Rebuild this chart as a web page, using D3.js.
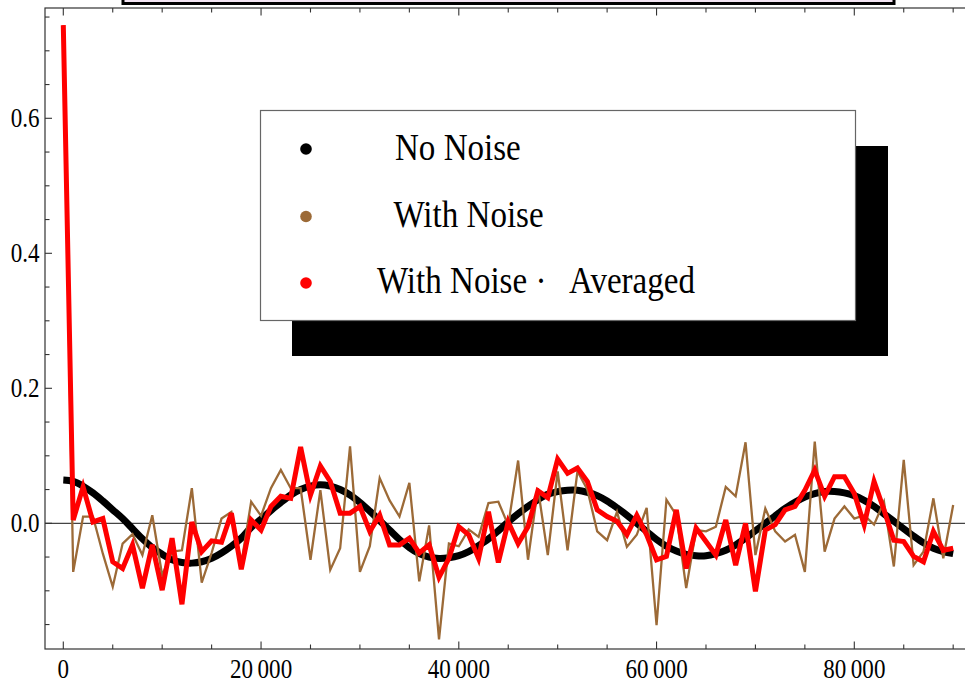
<!DOCTYPE html>
<html><head><meta charset="utf-8">
<script src="https://cdn.jsdelivr.net/npm/d3@7"></script>
<style>html,body{margin:0;padding:0;background:#fff;overflow:hidden}</style>
</head><body>
<svg id="chart" width="965" height="686"></svg>
<script>
// ---- data (x sampled every 1000 from 0 to 90000) ----
const xStep = 1000;
const noNoise = [0.064,0.062,0.055,0.045,0.033,0.020,0.007,-0.008,-0.023,-0.036,-0.046,-0.054,-0.058,-0.059,-0.057,-0.052,-0.044,-0.034,-0.022,-0.006,0.006,0.019,0.031,0.042,0.050,0.055,0.057,0.055,0.050,0.042,0.031,0.018,0.004,-0.010,-0.024,-0.036,-0.045,-0.050,-0.052,-0.051,-0.048,-0.042,-0.033,-0.023,-0.011,0.002,0.014,0.025,0.035,0.043,0.047,0.049,0.049,0.046,0.041,0.033,0.023,0.012,0.000,-0.012,-0.024,-0.034,-0.041,-0.046,-0.048,-0.048,-0.045,-0.040,-0.032,-0.022,-0.011,0.000,0.011,0.022,0.031,0.039,0.044,0.047,0.047,0.045,0.041,0.034,0.025,0.014,0.003,-0.008,-0.019,-0.029,-0.037,-0.042,-0.045];
const withNoise = [0.738,-0.072,0.010,0.010,-0.045,-0.094,-0.030,-0.016,-0.047,0.012,-0.077,-0.042,-0.040,0.052,-0.088,-0.044,0.007,0.017,-0.060,0.032,0.011,0.052,0.079,0.052,0.052,-0.054,0.049,-0.069,-0.037,0.114,-0.072,-0.034,0.067,0.034,0.010,0.060,-0.086,-0.003,-0.172,-0.030,-0.034,-0.009,-0.020,0.030,0.032,-0.003,0.093,-0.054,0.052,-0.047,0.077,-0.040,0.077,0.050,-0.012,-0.025,0.017,-0.035,-0.017,0.023,-0.151,0.035,0.012,-0.096,-0.010,-0.012,-0.005,0.054,0.040,0.120,-0.047,0.022,-0.012,-0.027,-0.017,-0.072,0.121,-0.042,0.007,0.025,0.007,0.012,-0.002,0.032,-0.064,0.094,-0.062,-0.042,0.037,-0.052,0.027];
const averaged = [0.738,0.005,0.054,0.002,0.007,-0.057,-0.067,-0.032,-0.096,-0.032,-0.099,-0.022,-0.120,0.002,-0.042,-0.026,-0.028,0.015,-0.068,0.005,-0.010,0.025,0.040,0.037,0.113,0.042,0.085,0.062,0.015,0.015,0.025,-0.012,0.012,-0.032,-0.032,-0.022,-0.044,-0.032,-0.080,-0.052,-0.005,-0.017,-0.052,0.017,-0.058,0.002,-0.030,-0.005,0.048,0.038,0.095,0.074,0.082,0.062,0.020,0.010,0.003,-0.017,0.012,-0.017,-0.054,-0.049,0.020,-0.067,-0.007,-0.027,-0.047,0.005,-0.062,0.000,-0.101,-0.010,-0.002,0.020,0.025,0.049,0.079,0.040,0.069,0.069,0.044,-0.002,0.062,0.020,-0.025,-0.027,-0.049,-0.057,-0.012,-0.040,-0.037];
const xTickValues = [0, 20000, 40000, 60000, 80000];
const xTickLabels = ["0", "20\u2009000", "40\u2009000", "60\u2009000", "80\u2009000"];
const yTickValues = [0.0, 0.2, 0.4, 0.6];
const yTickLabels = ["0.0", "0.2", "0.4", "0.6"];
const legendLabels = ["No Noise", "With Noise", "With Noise \u00B7"];
const legendExtra = "Averaged";
const seriesColors = ["#000000", "#9c6a37", "#ff0000"];

// ---- layout ----
const svg = d3.select("#chart");
const frame = {left: 45, top: 8, bottom: 649, right: 968};
const x = d3.scaleLinear().domain([0, 80000]).range([63.3, 854.3]);
const y = d3.scaleLinear().domain([0, 0.6]).range([523.3, 118.3]);
const serif = "'Liberation Serif','Times New Roman',serif";
const SX = 0.87;

// clip
svg.append("clipPath").attr("id","clip").append("rect")
  .attr("x", frame.left).attr("y", frame.top)
  .attr("width", frame.right-frame.left).attr("height", frame.bottom-frame.top);

// title box (cut off at top)
svg.append("rect").attr("x",123).attr("y",-20).attr("width",771).attr("height",23.5)
  .attr("fill","#f3e4f3").attr("stroke","#000").attr("stroke-width",3);

// zero line
svg.append("line").attr("x1",frame.left).attr("x2",frame.right)
  .attr("y1",y(0)).attr("y2",y(0)).attr("stroke","#444").attr("stroke-width",1.3);

// series
const g = svg.append("g").attr("clip-path","url(#clip)");
const smooth = d3.line().x((d,i)=>x(i*xStep)).y(d=>y(d)).curve(d3.curveCatmullRom);
g.append("path").attr("d", smooth(noNoise))
  .attr("fill","none").attr("stroke",seriesColors[0]).attr("stroke-width",7).attr("stroke-linejoin","round");
const lin = d3.line().x((d,i)=>x(i*xStep)).y(d=>y(d));
g.append("path").attr("d", lin(withNoise))
  .attr("fill","none").attr("stroke",seriesColors[1]).attr("stroke-width",2.3).attr("stroke-linejoin","miter");
g.append("path").attr("d", lin(averaged))
  .attr("fill","none").attr("stroke",seriesColors[2]).attr("stroke-width",5).attr("stroke-linejoin","miter");

// frame
svg.append("rect").attr("x",frame.left).attr("y",frame.top)
  .attr("width",frame.right-frame.left).attr("height",frame.bottom-frame.top)
  .attr("fill","none").attr("stroke","#333").attr("stroke-width",1.2);

// x ticks (bottom & top)
const xMinor = d3.range(0, 95000, 5000);
xMinor.forEach(v=>{
  const major = xTickValues.includes(v);
  const len = major ? 7.5 : 4.5;
  const px = x(v);
  svg.append("line").attr("x1",px).attr("x2",px).attr("y1",frame.bottom).attr("y2",frame.bottom-len)
    .attr("stroke","#333").attr("stroke-width",1.1);
  svg.append("line").attr("x1",px).attr("x2",px).attr("y1",frame.top).attr("y2",frame.top+len)
    .attr("stroke","#333").attr("stroke-width",1.1);
});
xTickValues.forEach((v,i)=>{
  svg.append("text").attr("transform",`translate(${x(v)},678) scale(${SX},1)`)
    .attr("text-anchor","middle").attr("font-family",serif).attr("font-size",26.5)
    .attr("fill","#000").text(xTickLabels[i]);
});

// y ticks
const yMinor = d3.range(-0.15, 0.76, 0.05).map(v=>Math.round(v*100)/100);
yMinor.forEach(v=>{
  const major = yTickValues.some(t=>Math.abs(t-v)<1e-6);
  const len = major ? 7 : 4.5;
  const py = y(v);
  svg.append("line").attr("x1",frame.left).attr("x2",frame.left+len).attr("y1",py).attr("y2",py)
    .attr("stroke","#333").attr("stroke-width",1.1);
});
yTickValues.forEach((v,i)=>{
  svg.append("text").attr("transform",`translate(39.5,${y(v)+8.5}) scale(${SX},1)`)
    .attr("text-anchor","end").attr("font-family",serif).attr("font-size",26.5)
    .attr("fill","#000").text(yTickLabels[i]);
});

// legend
svg.append("rect").attr("x",292).attr("y",146).attr("width",596).attr("height",210).attr("fill","#000");
svg.append("rect").attr("x",260.5).attr("y",110.5).attr("width",595).attr("height",210)
  .attr("fill","#fff").attr("stroke","#666").attr("stroke-width",1.2);
const legY = [149, 216.5, 283];
const legTextX = [395, 393.5, 377];
const legBase = [160, 227, 293];
legendLabels.forEach((lab,i)=>{
  svg.append("circle").attr("cx",306).attr("cy",legY[i]).attr("r",5.8).attr("fill",seriesColors[i]);
  svg.append("text").attr("transform",`translate(${legTextX[i]},${legBase[i]}) scale(${SX},1)`)
    .attr("font-family",serif).attr("font-size",38).attr("fill","#000").text(lab);
});
svg.append("text").attr("transform",`translate(569,${legBase[2]}) scale(${SX},1)`)
  .attr("font-family",serif).attr("font-size",38).attr("fill","#000").text(legendExtra);
</script>
</body></html>
